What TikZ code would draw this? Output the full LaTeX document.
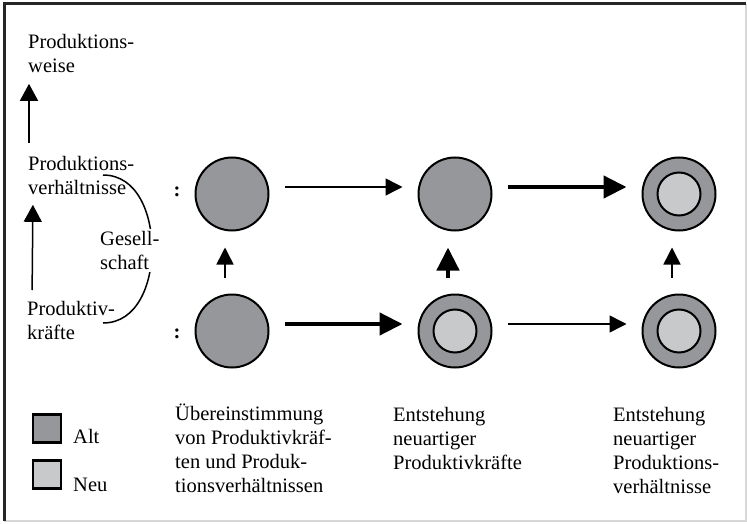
\documentclass[tikz,border=0pt]{standalone}
\usepackage{fontspec}
\setmainfont{Liberation Serif}
\usetikzlibrary{arrows.meta, positioning}
\definecolor{altgray}{RGB}{150,151,154}
\definecolor{neugray}{RGB}{200,201,203}
\definecolor{framegray}{RGB}{215,215,215}

\begin{document}
\begin{tikzpicture}[
    x=1pt, y=-1pt,
    lbl/.style={align=left, inner sep=0pt, anchor=north west, font=\fontsize{20.5}{24}\selectfont},
    alt/.style={circle, draw, line width=2pt, fill=altgray, minimum size=73pt, inner sep=0pt},
    neu/.style={alt, path picture={\draw[line width=2pt, fill=neugray] (path picture bounding box.center) circle (21.5pt);}},
    legbox/.style={rectangle, draw, line width=2.5pt, minimum size=28pt, inner sep=0pt},
    thinarrow/.style={draw, line width=1.5pt, -{Triangle[length=17pt, width=17pt]}, shorten <=15pt, shorten >=15pt},
    thickarrow/.style={draw, line width=4.5pt, -{Triangle[length=23pt, width=22pt]}, shorten <=15pt, shorten >=15pt},
    uparrow/.style={draw, line width=1.5pt, -{Triangle[length=17pt, width=18pt]}}
]
\useasboundingbox (0,0) rectangle (747,524);

% Frame
\draw[framegray, line width=1.5pt] (746,4) -- (746,521) -- (4,521);
\draw[black!85, line width=3pt] (4.5,521) -- (4.5,4) -- (746,4);

% Left column
\node[lbl] (weise) at (28,34) {Produktions-\\weise};
\node[lbl] (verh) at (28,156) {Produktions-\\verhältnisse};
\node[lbl] (kraefte) at (27,301) {Produktiv-\\kräfte};

\draw[line width=1.5pt] (103,175) to[out=0, in=90] (152,249) to[out=-90, in=0] (103,323);
\node[lbl, fill=white, inner sep=2pt] (gesellschaft) at (98,229) {Gesell-\\schaft};

\path[uparrow, shorten <=13pt, shorten >=11pt] ([xshift=1pt]verh.north west) -- ([xshift=1pt]weise.south west);
\path[uparrow, shorten <=11pt, shorten >=10pt] ([xshift=5pt]kraefte.north west) -- ([xshift=5pt]verh.south west);

% Circles
\node[font=\fontsize{20.5}{24}\selectfont\bfseries] (colon1) at (177,192) {:};
\node[font=\fontsize{20.5}{24}\selectfont\bfseries] (colon2) at (177,334) {:};

\node[alt] (pv1) at (232,194) {};
\node[alt] (pv2) at (455,194) {};
\node[neu] (pv3) at (679,194) {};
\node[alt] (pk1) at (232,331) {};
\node[neu] (pk2) at (455,331) {};
\node[neu] (pk3) at (679,331) {};

% Paths
\path[thinarrow] ([yshift=7pt]pv1.east) -- ([yshift=7pt]pv2.west);
\path[thickarrow] ([yshift=7pt]pv2.east) -- ([yshift=7pt]pv3.west);
\path[thickarrow] ([yshift=7pt]pk1.east) -- ([yshift=7pt]pk2.west);
\path[thinarrow] ([yshift=7pt]pk2.east) -- ([yshift=7pt]pk3.west);

\path[thinarrow, shorten <=16pt, shorten >=16pt] ([xshift=-7pt]pk1.north) -- ([xshift=-7pt]pv1.south);
\path[thickarrow, shorten <=16pt, shorten >=16pt] ([xshift=-7pt]pk2.north) -- ([xshift=-7pt]pv2.south);
\path[thinarrow, shorten <=16pt, shorten >=16pt] ([xshift=-7pt]pk3.north) -- ([xshift=-7pt]pv3.south);

% Legend
\node[legbox, fill=altgray] (altbox) at (47,428.5) {};
\node[legbox, fill=neugray] (neubox) at (47,474.5) {};
\node[lbl] (alt) at (73,429) {Alt};
\node[lbl] (neu) at (73,478) {Neu};

% Descriptions
\node[lbl] (stufe1) at (175,404) {Übereinstimmung\\von Produktivkräf-\\ten und Produk-\\tionsverhältnissen};
\node[lbl] (stufe2) at (393,407) {Entstehung\\neuartiger\\Produktivkräfte};
\node[lbl] (stufe3) at (613,407) {Entstehung\\neuartiger\\Produktions-\\verhältnisse};

\end{tikzpicture}
\end{document}
